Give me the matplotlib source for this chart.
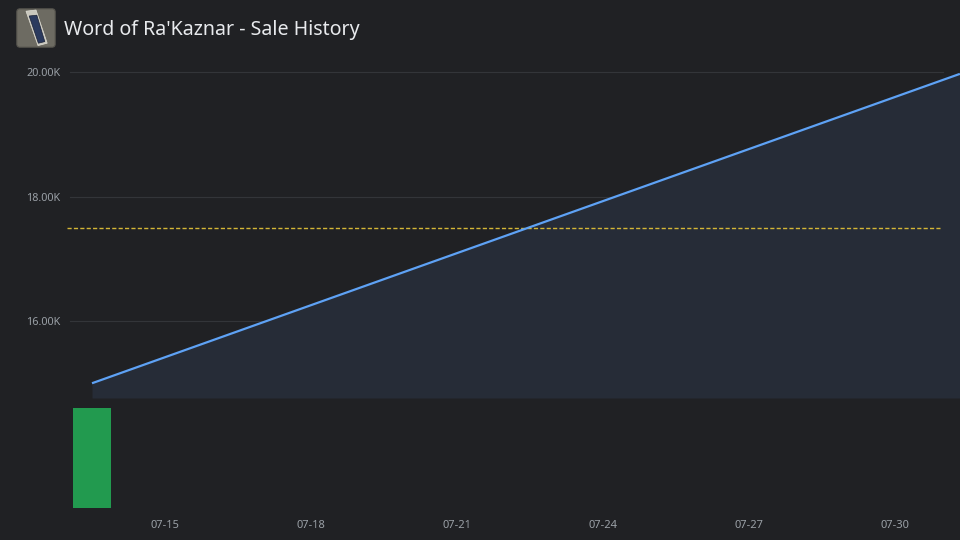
import matplotlib
matplotlib.use("Agg")
import matplotlib.pyplot as plt
import matplotlib.dates as mdates
from matplotlib.patches import FancyBboxPatch, Polygon
from datetime import datetime

TITLE = "Word of Ra'Kaznar - Sale History"
SALE_TIMES = [datetime(2024, 7, 13, 12), datetime(2024, 7, 31, 8)]
SALE_PRICES = [15000, 19970]
VOLUME_TIMES = [datetime(2024, 7, 13, 12)]
VOLUMES = [1]
AVERAGE_PRICE = 17500
PRICE_TICKS = [16000, 18000, 20000]
PRICE_TICK_LABELS = ["16.00K", "18.00K", "20.00K"]
DATE_TICKS = [datetime(2024, 7, d) for d in (15, 18, 21, 24, 27, 30)]
DATE_TICK_LABELS = ["07-15", "07-18", "07-21", "07-24", "07-27", "07-30"]

BG = "#202124"
GRID = "#333539"
TEXT = "#9aa0a6"
LINE = "#5ea2f5"
FILL = "#262c37"
BAR = "#229a4f"
AVG = "#d4b636"

W, H = 960, 540


def fig_rect(x0, y0, x1, y1):
    # pixel box (top-left origin) -> figure fraction rect
    return [x0 / W, 1 - y1 / H, (x1 - x0) / W, (y1 - y0) / H]


def main():
    plt.rcParams["font.family"] = ["Noto Sans", "DejaVu Sans"]
    fig = plt.figure(figsize=(9.6, 5.4), dpi=100, facecolor=BG)

    # x scale: 07-15 at px 165, 48.67 px per day
    px_day = 146 / 3
    x15 = mdates.date2num(datetime(2024, 7, 15))
    xmin = x15 - 165 / px_day
    xmax = x15 + (W - 165) / px_day

    # price axes
    ax = fig.add_axes(fig_rect(0, 60, W, 398))
    ax.set_facecolor(BG)
    px_val = 2000 / 124.5
    ymin = 16000 - (398 - 321) * px_val
    ymax = 20000 + (72 - 60) * px_val
    ax.set_xlim(xmin, xmax)
    ax.set_ylim(ymin, ymax)
    for s in ax.spines.values():
        s.set_visible(False)

    xs = mdates.date2num(SALE_TIMES)
    ax.fill_between(xs, SALE_PRICES, ymin, color=FILL, lw=0, zorder=1)
    ax.plot(xs, SALE_PRICES, color=LINE, lw=1.6, zorder=3, solid_capstyle="butt")
    for v in PRICE_TICKS:
        ax.axhline(v, xmin=70 / W, xmax=943 / W, color=GRID, lw=0.8, zorder=0)
    ax.axhline(AVERAGE_PRICE, xmin=67 / W, xmax=940 / W, color=AVG, lw=1.0,
               ls=(0, (3, 1.6)), zorder=2)

    ax.set_yticks(PRICE_TICKS)
    ax.set_yticklabels(PRICE_TICK_LABELS)
    ax.tick_params(axis="y", length=0, pad=-43.5, labelsize=7.8, labelcolor=TEXT)
    ax.set_xticks([])

    # volume axes
    vax = fig.add_axes(fig_rect(0, 408, W, 508))
    vax.set_facecolor("none")
    vax.set_xlim(xmin, xmax)
    vax.set_ylim(0, max(VOLUMES))
    for s in vax.spines.values():
        s.set_visible(False)
    vax.bar(mdates.date2num(VOLUME_TIMES), VOLUMES, width=38 / px_day,
            color=BAR, lw=0)
    vax.set_yticks([])
    vax.set_xticks(mdates.date2num(DATE_TICKS))
    vax.set_xticklabels(DATE_TICK_LABELS)
    vax.tick_params(axis="x", length=0, pad=8.5, labelsize=8, labelcolor=TEXT)

    # title and icon
    fig.text(64 / W, 1 - 30.5 / H, TITLE, color="#e8eaed", fontsize=14.1,
             va="center", ha="left")
    iax = fig.add_axes(fig_rect(16, 8, 56, 48))
    iax.set_xlim(0, 1)
    iax.set_ylim(0, 1)
    iax.axis("off")
    iax.add_patch(FancyBboxPatch((0.02, 0.02), 0.96, 0.96,
                                 boxstyle="round,pad=0,rounding_size=0.08",
                                 fc="#6d6b62", ec="#55544d", lw=0.8))
    iax.add_patch(Polygon([[0.25, 0.92], [0.5, 0.95], [0.78, 0.12], [0.55, 0.06]],
                          closed=True, fc="#c9c7bd", ec="#e0ded5", lw=0.5))
    iax.add_patch(Polygon([[0.33, 0.8], [0.52, 0.82], [0.72, 0.16], [0.56, 0.12]],
                          closed=True, fc="#2b3a5e", ec="#1c2236", lw=0.5))

    fig.savefig("out.png", dpi=100, facecolor=BG)


if __name__ == "__main__":
    main()
